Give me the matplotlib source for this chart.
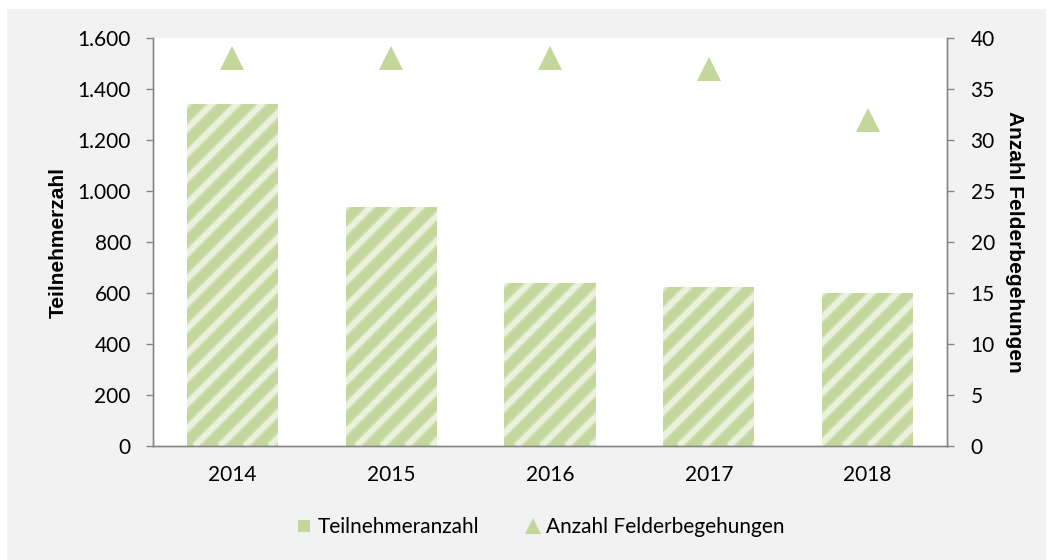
import matplotlib
matplotlib.use("Agg")
import matplotlib.pyplot as plt
import numpy as np
from matplotlib.patches import Rectangle
from matplotlib.collections import LineCollection
from matplotlib.transforms import IdentityTransform
from matplotlib.lines import Line2D
from matplotlib.ticker import FuncFormatter, MultipleLocator

# Data
years = ["2014", "2015", "2016", "2017", "2018"]
participants = [1341, 937, 639, 624, 600]
field_visits = [38, 38, 38, 37, 32]

GREEN = "#c3d69b"
STRIPE = "#eef3e2"
GREY_BG = "#f2f2f2"
SPINE = "#868686"
TICK_FONT = "Lato"
LABEL_FONT = "Liberation Sans"
FS = 15

W, H, DPI = 1052, 560, 100
fig = plt.figure(figsize=(W / DPI, H / DPI), dpi=DPI, facecolor="white")

# grey chart area
fig.patches.append(Rectangle((7 / W, 0), (1046 - 7) / W, (551) / H,
                             transform=fig.transFigure, facecolor=GREY_BG,
                             edgecolor="none", zorder=-10))

ax = fig.add_axes([153 / W, (H - 446) / H, (947 - 153) / W, (446 - 38) / H])
ax.set_facecolor("white")
ax2 = ax.twinx()

x = np.arange(len(years))
bars = ax.bar(x, participants, width=0.575, color=GREEN, zorder=2)

ax.set_xlim(-0.5, len(years) - 0.5)
ax.set_ylim(0, 1600)
ax.yaxis.set_major_locator(MultipleLocator(200))
ax.yaxis.set_major_formatter(FuncFormatter(lambda v, p: f"{v:,.0f}".replace(",", ".")))
ax.set_xticks(x)
ax.set_xticklabels(years)

ax2.set_ylim(0, 40)
ax2.yaxis.set_major_locator(MultipleLocator(5))
ax2.plot(x, field_visits, linestyle="none", marker="^", markersize=17,
         color=GREEN, markeredgewidth=0, zorder=3)

for a in (ax, ax2):
    a.spines["top"].set_visible(False)
    for s in ("left", "right", "bottom"):
        a.spines[s].set_color(SPINE)
        a.spines[s].set_linewidth(1.0)

ax.tick_params(axis="y", direction="out", length=5, width=1, color=SPINE,
               pad=11, labelsize=FS, labelcolor="black")
ax.tick_params(axis="x", length=0, pad=14, labelsize=FS, labelcolor="black")
ax2.tick_params(axis="y", direction="out", length=5, width=1, color=SPINE,
                pad=12, labelsize=FS, labelcolor="black")
for lab in ax.get_yticklabels() + ax.get_xticklabels() + ax2.get_yticklabels():
    lab.set_fontfamily(TICK_FONT)

ax.set_ylabel("Teilnehmerzahl", fontfamily=LABEL_FONT, fontweight="bold",
              fontsize=15, labelpad=0, rotation=90, ha="center", va="center",
              rotation_mode="default")
ax.yaxis.set_label_coords(-0.1196, 0.5)
ax2.set_ylabel("Anzahl Felderbegehungen", fontfamily=LABEL_FONT,
               fontweight="bold", fontsize=15, rotation=270, labelpad=0,
               ha="center", va="center", rotation_mode="default")
ax2.yaxis.set_label_coords(1.0856, 0.5)

# diagonal light stripes on the bars
fig.canvas.draw()
period = 25.0
for bar in bars:
    x0, y0 = ax.transData.transform((bar.get_x(), 0))
    x1, y1 = ax.transData.transform((bar.get_x() + bar.get_width(), bar.get_height()))
    span = (y1 - y0) + (x1 - x0)
    segs = []
    c = x0 - (y1 - y0) - period
    while c < x1 + period:
        segs.append([(c, y0), (c + span, y0 + span)])
        c += period
    for lw, alpha in ((6.5, 0.35), (4.0, 0.9)):
        lc = LineCollection(segs, colors=STRIPE, linewidths=lw, alpha=alpha,
                            transform=IdentityTransform(), zorder=2.5)
        ax.add_collection(lc, autolim=False)
        lc.set_clip_path(bar)

handles = [
    Line2D([], [], linestyle="none", marker="s", markersize=9, color=GREEN,
           markeredgewidth=0),
    Line2D([], [], linestyle="none", marker="^", markersize=11, color=GREEN,
           markeredgewidth=0),
]
leg = fig.legend(handles, ["Teilnehmeranzahl", "Anzahl Felderbegehungen"],
                 loc="center", bbox_to_anchor=(541 / W, (H - 527) / H),
                 ncol=2, frameon=False, handlelength=0.7, handletextpad=0.3,
                 columnspacing=2.2, prop={"family": TICK_FONT, "size": FS})

fig.savefig("out.png", dpi=DPI, facecolor="white")
